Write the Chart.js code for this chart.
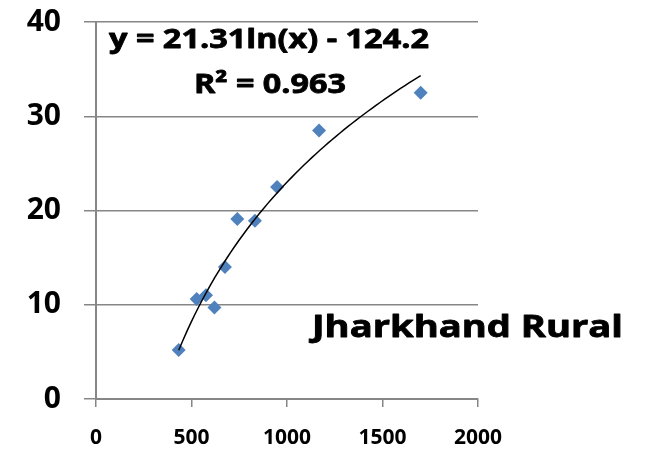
<!DOCTYPE html>
<html lang="en">
<head>
    <meta charset="UTF-8" />
    <title>Jharkhand Rural</title>
    <script src="https://cdn.jsdelivr.net/npm/chart.js"></script>
    <style>
        html, body {
            margin: 0;
            padding: 0;
            background: #fff;
        }
        #wrap {
            width: 646px;
            height: 456px;
        }
    </style>
</head>
<body>
    <div id="wrap"><canvas id="grafico" width="646" height="456"></canvas></div>

    <script>
        // datos
        const xValores = [433, 527, 576, 620, 675, 740, 832, 948, 1168, 1700];
        const yValores = [5.2, 10.6, 11.0, 9.7, 14.0, 19.1, 18.9, 22.5, 28.5, 32.5];
        const xTicks = [0, 500, 1000, 1500, 2000];
        const yTicks = [0, 10, 20, 30, 40];
        const coefA = 21.31;
        const coefB = -124.2;
        const textoEcuacion = 'y = 21.31ln(x) - 124.2';
        const textoR2 = 'R² = 0.963';
        const titulo = 'Jharkhand Rural';

        const puntos = xValores.map((x, i) => ({ x: x, y: yValores[i] }));

        // linea de tendencia logaritmica
        const xMin = Math.min(...xValores);
        const xMax = Math.max(...xValores);
        const tendencia = [];
        for (let i = 0; i <= 60; i++) {
            const x = xMin + (xMax - xMin) * i / 60;
            tendencia.push({ x: x, y: coefA * Math.log(x) + coefB });
        }

        const gris = '#868686';
        const fuente = '"Open Sans", Lato, sans-serif';

        // texto estirado a lo ancho (como en la imagen original)
        function textoAncho(ctx, txt, x, y, ancho) {
            const w = ctx.measureText(txt).width;
            ctx.save();
            ctx.translate(x, y);
            ctx.scale(ancho / w, 1);
            ctx.fillText(txt, 0, 0);
            ctx.strokeText(txt, 0, 0);
            ctx.restore();
        }

        const textos = {
            id: 'textos',
            afterDraw(chart) {
                const ctx = chart.ctx;
                ctx.save();
                ctx.fillStyle = '#000';
                ctx.strokeStyle = '#000';
                ctx.lineWidth = 0.8;
                ctx.lineJoin = 'round';
                ctx.textBaseline = 'alphabetic';
                ctx.textAlign = 'left';
                ctx.font = 'bold 27px ' + fuente;
                textoAncho(ctx, textoEcuacion, 109, 48, 320);
                textoAncho(ctx, textoR2, 194, 93, 152);
                ctx.font = 'bold 30px ' + fuente;
                textoAncho(ctx, titulo, 312, 337, 311);
                ctx.restore();
            }
        };

        new Chart(document.getElementById('grafico'), {
            type: 'scatter',
            data: {
                datasets: [{
                    label: 'datos',
                    data: puntos,
                    pointStyle: 'rectRot',
                    pointRadius: 7,
                    pointBackgroundColor: '#4F81BD',
                    pointBorderColor: '#4F81BD',
                    pointBorderWidth: 0,
                    order: 2
                }, {
                    label: 'tendencia',
                    type: 'line',
                    data: tendencia,
                    borderColor: '#000',
                    borderWidth: 1.5,
                    pointRadius: 0,
                    fill: false,
                    tension: 0,
                    order: 1
                }]
            },
            options: {
                responsive: false,
                animation: false,
                layout: { padding: { top: 22, right: 168, left: 0, bottom: 0 } },
                plugins: {
                    legend: { display: false },
                    tooltip: { enabled: false }
                },
                scales: {
                    x: {
                        type: 'linear',
                        min: 0,
                        max: 2000,
                        afterBuildTicks: (s) => { s.ticks = xTicks.map(v => ({ value: v })); },
                        afterFit: (s) => { s.height = 57; },
                        border: { color: gris, width: 2 },
                        grid: { drawOnChartArea: false, drawTicks: true, tickLength: 8, color: gris, lineWidth: 1.5 },
                        ticks: {
                            color: '#000', padding: 18, maxRotation: 0,
                            font: { family: fuente, size: 21, weight: 'bold' },
                            callback: (v) => String(v)
                        }
                    },
                    y: {
                        min: 0,
                        max: 40,
                        afterBuildTicks: (s) => { s.ticks = yTicks.map(v => ({ value: v })); },
                        afterFit: (s) => { s.width = 96; s.paddingTop = 0; s.paddingBottom = 0; },
                        border: { color: gris, width: 2 },
                        grid: { drawTicks: true, tickLength: 12, color: gris, lineWidth: 1.5 },
                        ticks: {
                            color: '#000', padding: 23,
                            font: { family: fuente, size: 30, weight: 'bold' },
                            callback: (v) => String(v)
                        }
                    }
                }
            },
            plugins: [textos]
        });
    </script>
</body>
</html>
